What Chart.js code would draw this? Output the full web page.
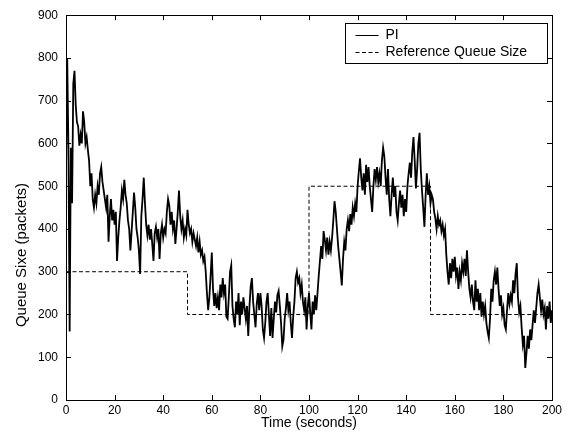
<!DOCTYPE html>
<html lang="en">
<head>
<meta charset="UTF-8" />
<title>Queue Size vs Time</title>
<script src="https://cdn.jsdelivr.net/npm/chart.js@4"></script>
<style>
    html, body { margin: 0; padding: 0; background: #fff; }
    #wrap { width: 574px; height: 441px; position: relative; }
</style>
</head>
<body>
<div id="wrap"><canvas id="queueChart"></canvas></div>
<script>
// axis ticks
const xTicks = [0, 20, 40, 60, 80, 100, 120, 140, 160, 180, 200];
const yTicks = [0, 100, 200, 300, 400, 500, 600, 700, 800, 900];

// PI queue trace, one reading every 0.5 s
const sampleStep = 0.5;
const piValues = [
    530, 800, 590, 160, 590, 460, 740, 770, 690, 650,
    640, 595, 620, 600, 675, 650, 600, 615, 585, 560,
    500, 530, 470, 450, 480, 460, 500, 480, 530, 545,
    510, 490, 470, 450, 480, 370, 430, 470, 420, 445,
    410, 440, 325, 380, 420, 450, 490, 470, 515, 480,
    460, 420, 400, 350, 395, 440, 485, 450, 400, 380,
    350, 295, 430, 470, 520, 460, 410, 385, 410, 375,
    400, 365, 325, 390, 405, 380, 400, 330, 390, 410,
    380, 400, 390, 440, 470, 455, 410, 440, 400, 420,
    365, 400, 440, 490, 430, 400, 420, 380, 400, 385,
    445, 410, 390, 400, 370, 390, 375, 360, 380, 345,
    370, 340, 350, 325, 335, 300, 250, 210, 240, 290,
    345, 260, 220, 250, 215, 240, 210, 270, 240, 285,
    250, 270, 195, 190, 240, 300, 315, 220, 190, 170,
    230, 200, 250, 175, 230, 200, 240, 215, 190, 220,
    150, 220, 265, 285, 230, 200, 170, 225, 250, 210,
    250, 220, 165, 145, 180, 230, 250, 200, 150, 215,
    145, 190, 230, 205, 245, 255, 220, 180, 125, 140,
    190, 215, 250, 210, 230, 180, 145, 195, 230, 285,
    300, 275, 285, 250, 270, 230, 210, 240, 165, 220,
    250, 205, 165, 230, 200, 245, 210, 250, 290, 325,
    360, 330, 395, 375, 350, 380, 340, 370, 350, 380,
    420, 465, 440, 400, 360, 330, 300, 268, 330, 370,
    350, 400, 420, 395, 435, 410, 450, 430, 460, 440,
    500, 535, 565, 520, 490, 530, 480, 550, 510, 545,
    500, 470, 440, 500, 540, 515, 545, 510, 530, 500,
    560, 590, 570, 520, 480, 540, 470, 430, 480, 520,
    475, 500, 440, 420, 460, 490, 450, 480, 430, 470,
    440, 500, 530, 555, 520, 580, 615, 560, 495, 540,
    600, 625, 540, 490, 450, 405, 480, 530, 480, 500,
    460, 480, 470, 440, 425, 400, 430, 410, 420, 395,
    410, 385, 400, 340, 300, 270, 320, 285, 330, 300,
    335, 290, 310, 260, 300, 280, 320, 300, 330, 290,
    350, 300, 260, 240, 270, 230, 210, 280, 230, 260,
    210, 250, 195, 230, 200, 220, 180, 160, 145, 190,
    260, 230, 280, 300, 270, 310, 260, 220, 245, 200,
    215, 175, 165, 210, 250, 225, 245, 230, 280, 250,
    295, 320, 240, 205, 220, 170, 130, 150, 75, 110,
    150, 120, 165, 140, 175, 210, 180, 215, 250, 270,
    240, 210, 235, 200, 215, 165, 220, 190, 230, 180,
    210
];

// reference queue size (step changes)
const refTimes = [0, 50, 100, 150, 200];
const refValues = [300, 200, 500, 200, 200];

const seriesLabels = ['PI', 'Reference Queue Size'];
const xTitle = 'Time (seconds)';
const yTitle = 'Queue Sixe (packets)';

const piData = piValues.map((v, i) => ({ x: i * sampleStep, y: v }));
const refData = refValues.map((v, i) => ({ x: refTimes[i], y: v }));

const fontFamily = '"Liberation Sans", Arial, sans-serif';

// Matlab style frame: box, inward ticks on all sides, legend box, y label
const framePlugin = {
    id: 'matlabFrame',
    afterDraw(chart) {
        const { ctx, chartArea: a, scales } = chart;
        const tl = 5;
        ctx.save();
        ctx.strokeStyle = '#000';
        ctx.lineWidth = 1;
        ctx.setLineDash([]);
        ctx.strokeRect(Math.round(a.left) + 0.5, Math.round(a.top) + 0.5,
            Math.round(a.right - a.left), Math.round(a.bottom - a.top));

        ctx.beginPath();
        xTicks.forEach(t => {
            const px = Math.round(scales.x.getPixelForValue(t)) + 0.5;
            ctx.moveTo(px, a.bottom); ctx.lineTo(px, a.bottom - tl);
            ctx.moveTo(px, a.top); ctx.lineTo(px, a.top + tl);
        });
        yTicks.forEach(t => {
            const py = Math.round(scales.y.getPixelForValue(t)) + 0.5;
            ctx.moveTo(a.left, py); ctx.lineTo(a.left + tl, py);
            ctx.moveTo(a.right, py); ctx.lineTo(a.right - tl, py);
        });
        ctx.stroke();

        // legend
        const lx = 345.5, ly = 23.5, lw = 202, lh = 40;
        ctx.fillStyle = '#fff';
        ctx.fillRect(lx, ly, lw, lh);
        ctx.strokeRect(lx, ly, lw, lh);
        ctx.font = '14px ' + fontFamily;
        ctx.fillStyle = '#000';
        ctx.textBaseline = 'middle';
        chart.data.datasets.forEach((ds, i) => {
            const ry = ly + 12 + i * 17;
            ctx.beginPath();
            ctx.setLineDash(ds.borderDash || []);
            ctx.moveTo(lx + 10, ry); ctx.lineTo(lx + 33, ry);
            ctx.lineWidth = 1;
            ctx.stroke();
            ctx.setLineDash([]);
            ctx.fillText(ds.label, lx + 40, ry);
        });

        // y axis label
        ctx.font = '15px ' + fontFamily;
        ctx.translate(22, 255);
        ctx.rotate(-Math.PI / 2);
        ctx.textAlign = 'center';
        ctx.fillText(yTitle, 0, 0);
        ctx.restore();
    }
};

new Chart(document.getElementById('queueChart'), {
    type: 'line',
    data: {
        datasets: [
            {
                label: seriesLabels[0],
                data: piData,
                borderColor: '#000',
                borderWidth: 1.8,
                pointRadius: 0,
                tension: 0
            },
            {
                label: seriesLabels[1],
                data: refData,
                borderColor: '#000',
                borderWidth: 1,
                borderDash: [4, 2.5],
                pointRadius: 0,
                stepped: 'before'
            }
        ]
    },
    options: {
        responsive: true,
        maintainAspectRatio: false,
        animation: false,
        layout: { padding: { left: 0, top: 15, right: 22, bottom: 0 } },
        plugins: {
            legend: { display: false },
            tooltip: { enabled: false }
        },
        scales: {
            x: {
                type: 'linear',
                min: 0,
                max: 200,
                grid: { display: false, drawTicks: false },
                border: { display: false },
                afterBuildTicks: s => { s.ticks = xTicks.map(v => ({ value: v })); },
                afterFit: s => { s.height = 41; },
                ticks: { color: '#000', padding: 3, maxRotation: 0, font: { family: fontFamily, size: 12 } },
                title: {
                    display: true,
                    text: xTitle,
                    color: '#000',
                    font: { family: fontFamily, size: 14 },
                    padding: { top: 0, bottom: 9 }
                }
            },
            y: {
                min: 0,
                max: 900,
                grid: { display: false, drawTicks: false },
                border: { display: false },
                afterBuildTicks: s => { s.ticks = yTicks.map(v => ({ value: v })); },
                afterFit: s => { s.width = 66; },
                ticks: { color: '#000', padding: 8, font: { family: fontFamily, size: 12 } }
            }
        }
    },
    plugins: [framePlugin]
});
</script>
</body>
</html>
